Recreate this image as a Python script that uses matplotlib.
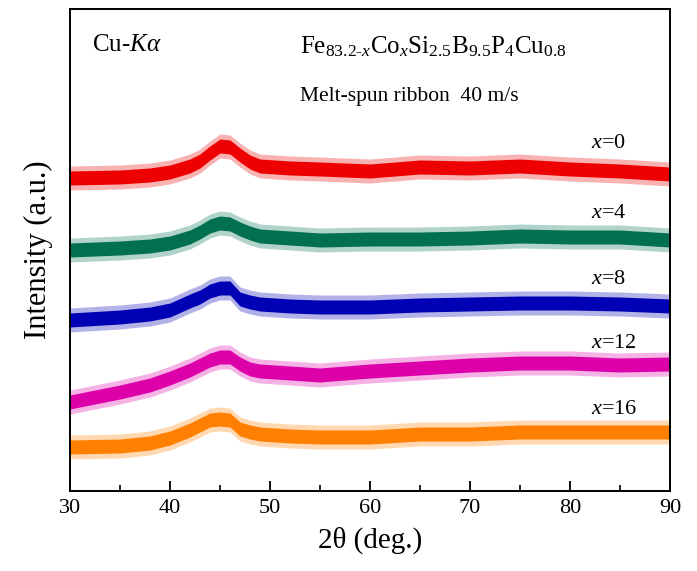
import matplotlib
matplotlib.use("Agg")
import matplotlib.pyplot as plt
import numpy as np
from matplotlib.ticker import MultipleLocator

# ---- data (intensity in arbitrary units) ----
two_theta = [30, 35, 38, 40, 42, 43, 44, 45, 46, 47, 48, 49, 52, 55, 60, 65, 70, 75, 80, 85, 90]
int_x0  = [313, 314, 316, 319, 325, 330, 338, 345, 344, 336, 329, 325, 323, 322, 320, 324, 323, 325, 322, 320, 317]
int_x4  = [241, 243, 245, 248, 254, 259, 265, 268, 267, 262, 258, 255, 253, 251, 252, 252, 253, 255, 254, 254, 251]
int_x8  = [171, 174, 177, 181, 190, 194, 200, 203, 203, 192, 189, 187, 185, 184, 184, 186, 187, 188, 188, 187, 185]
int_x12 = [89, 99, 106, 113, 121, 126, 131, 134, 134, 127, 122, 120, 118, 116, 120, 123, 126, 128, 128, 126, 127]
int_x16 = [44, 45, 48, 53, 61, 66, 71, 72, 71, 62, 59, 57, 55, 54, 54, 57, 57, 59, 59, 59, 59]

series_labels = ["$x$=0", "$x$=4", "$x$=8", "$x$=12", "$x$=16"]
series_values = [int_x0, int_x4, int_x8, int_x12, int_x16]
label_y = [347, 278, 212, 148, 81]
colors = ["#EE0000", "#007050", "#0000B4", "#DD00AA", "#FF8000"]

x_ticks = [30, 40, 50, 60, 70, 80, 90]

# ---- style ----
plt.rcParams["font.family"] = ["Liberation Serif", "DejaVu Serif"]
plt.rcParams["mathtext.fontset"] = "custom"
plt.rcParams["mathtext.rm"] = "Liberation Serif"
plt.rcParams["mathtext.it"] = "Liberation Serif:italic"
plt.rcParams["mathtext.bf"] = "Liberation Serif:bold"

CORE = 7      # half-thickness of the dense noise band
FRINGE = 12   # half-thickness including spikes

fig = plt.figure(figsize=(6.97, 5.71), dpi=100)
ax = fig.add_axes([70 / 697, 80 / 571, 600 / 697, 482 / 571])

for vals, col in zip(series_values, colors):
    v = np.asarray(vals, dtype=float)
    ax.fill_between(two_theta, v - FRINGE, v + FRINGE, color=col, alpha=0.3, lw=0)
    ax.fill_between(two_theta, v - CORE, v + CORE, color=col, alpha=1.0, lw=0)

for lab, yy in zip(series_labels, label_y):
    ax.text(82.1, yy, lab, fontsize=16, ha="left", va="center")

ax.text(32.2, 446, r"Cu-$K\alpha$", fontsize=18, ha="left", va="center")
ax.text(53.0, 444, r"Fe$_{83.2\text{-}x}$Co$_{x}$Si$_{2.5}$B$_{9.5}$P$_{4}$Cu$_{0.8}$",
        fontsize=18, ha="left", va="center")
ax.text(53.0, 394, "Melt-spun ribbon  40 m/s", fontsize=15.5, ha="left", va="center")

ax.set_xlim(30, 90)
ax.set_ylim(0, 482)
ax.set_xticks(x_ticks)
ax.xaxis.set_minor_locator(MultipleLocator(5))
ax.set_yticks([])
ax.tick_params(axis="x", which="major", direction="in", length=7, width=1.3,
               labelsize=16, top=False, pad=6)
ax.tick_params(axis="x", which="minor", direction="in", length=4, width=1.2, top=False)
for s in ax.spines.values():
    s.set_linewidth(1.4)

ax.set_xlabel("2θ (deg.)", fontsize=21, labelpad=6)
ax.set_ylabel("Intensity (a.u.)", fontsize=22, labelpad=12)

fig.savefig("out.png", dpi=100)
